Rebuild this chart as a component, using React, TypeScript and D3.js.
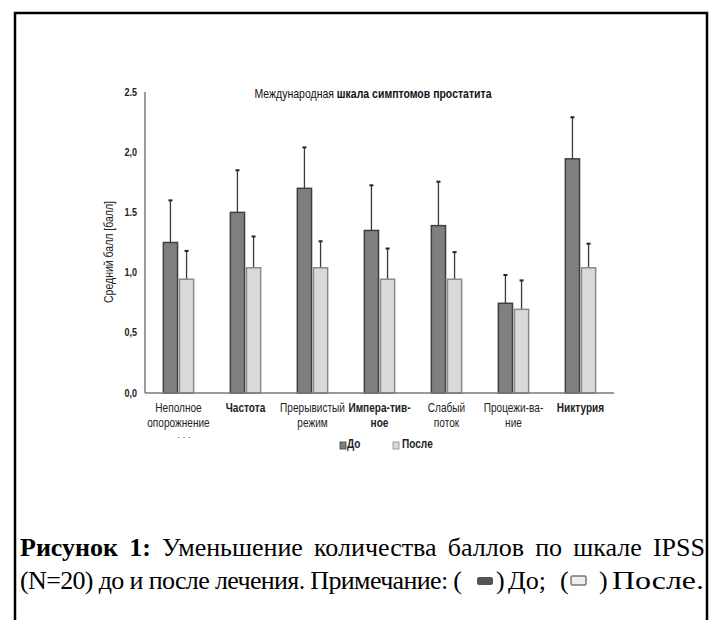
import React, { useLayoutEffect, useRef, useState } from "react";
import * as d3 from "d3";

const categories = ["Неполное опорожнение", "Частота", "Прерывистый режим", "Импера-тив-ное", "Слабый поток", "Процежи-ва-ние", "Никтурия"];
const categoryLines = [["Неполное", "опорожнение"], ["Частота"], ["Прерывистый", "режим"], ["Импера-тив-", "ное"], ["Слабый", "поток"], ["Процежи-ва-", "ние"], ["Никтурия"]];
const categoryBold = [false, true, false, true, false, false, true];
const series = ["До", "После"];
const beforeMeans = [1.25, 1.5, 1.7, 1.35, 1.39, 0.745, 1.945];
const beforeSD = [0.35, 0.35, 0.34, 0.375, 0.365, 0.235, 0.345];
const afterMeans = [0.945, 1.04, 1.04, 0.945, 0.945, 0.695, 1.04];
const afterSD = [0.235, 0.26, 0.22, 0.255, 0.225, 0.24, 0.2];
const yTicks = [0, 0.5, 1, 1.5, 2, 2.5];
const yTickLabels = ["0,0", "0,5", "1,0", "1.5", "2,0", "2.5"];

const FILL = { "До": "#7f7f7f", "После": "#d9d9d9" };
const STROKE = { "До": "#3f3f3f", "После": "#8a8a8a" };
const SANS = "'Liberation Sans', Arial, sans-serif";
const SERIF = "'Liberation Serif', 'Times New Roman', serif";
const NARROW = 0.84;

export default function App() {
  const x0 = d3.scaleBand().domain(categories).range([145, 614]).paddingInner(0.49).paddingOuter(0.245);
  const x1 = d3.scaleBand().domain(series).range([0, x0.bandwidth()]).padding(0.12);
  const y = d3.scaleLinear().domain([0, 2.5]).range([393, 92]);

  const line1Ref = useRef<SVGTextElement>(null);
  const [ws, setWs] = useState(0);
  useLayoutEffect(() => {
    const el = line1Ref.current;
    if (!el) return;
    const w = el.getComputedTextLength();
    setWs((685 - w) / 7);
  }, []);

  const data = categories.map((c, i) => ({
    c,
    vals: [
      { s: "До", m: beforeMeans[i], sd: beforeSD[i] },
      { s: "После", m: afterMeans[i], sd: afterSD[i] },
    ],
  }));

  return (
    <svg width={710} height={620} style={{ position: "absolute", left: 0, top: 0, background: "#fff" }}>
      <rect x={15} y={13} width={692} height={700} fill="none" stroke="#000" strokeWidth={2.5} />
      {/* title */}
      <text transform={`translate(373,98) scale(${NARROW},1)`} textAnchor="middle" fontFamily={SANS} fontSize={12.5} fill="#111">
        Международная <tspan fontWeight="bold">шкала симптомов простатита</tspan>
      </text>
      {/* y label */}
      <text transform={`translate(113,252) rotate(-90) scale(${NARROW},1)`} textAnchor="middle" fontFamily={SANS} fontSize={12.5} fill="#222">
        Средний балл [балл]
      </text>
      {/* y tick labels */}
      {yTicks.map((t, i) => (
        <text key={t} transform={`translate(137,${y(t) + 3.5}) scale(0.9,1)`} textAnchor="end" fontFamily={SANS} fontWeight="bold" fontSize={10} fill="#222">
          {yTickLabels[i]}
        </text>
      ))}
      {/* bars */}
      {data.map((d) => (
        <g key={d.c} transform={`translate(${x0(d.c)},0)`}>
          {d.vals.map((v) => {
            const bx = x1(v.s)!;
            const bw = x1.bandwidth();
            const cx = bx + bw / 2;
            return (
              <g key={v.s}>
                <line x1={cx} x2={cx} y1={y(v.m)} y2={y(v.m + v.sd)} stroke="#3a3a3a" strokeWidth={1.3} />
                <line x1={cx - 2} x2={cx + 2} y1={y(v.m + v.sd)} y2={y(v.m + v.sd)} stroke="#222" strokeWidth={2} />
                <rect x={bx} y={y(v.m)} width={bw} height={y(0) - y(v.m)} fill={FILL[v.s]} stroke={STROKE[v.s]} strokeWidth={1.5} />
              </g>
            );
          })}
        </g>
      ))}
      {/* axes */}
      <line x1={145} x2={145} y1={92} y2={393} stroke="#7a7a7a" strokeWidth={1.5} />
      <line x1={145} x2={614} y1={393} y2={393} stroke="#7a7a7a" strokeWidth={1.5} />
      {/* category labels */}
      {categories.map((c, i) => (
        <g key={c} transform={`translate(${x0(c)! + x0.bandwidth() / 2},412) scale(${NARROW},1)`}>
          <text textAnchor="middle" fontFamily={SANS} fontSize={12}
            fontWeight={categoryBold[i] ? "bold" : "normal"} fill="#222">
            {categoryLines[i].map((l, j) => (
              <tspan key={j} x={0} dy={j === 0 ? 0 : 15}>{l}</tspan>
            ))}
          </text>
        </g>
      ))}
      <text x={184} y={440} textAnchor="middle" fontFamily={SANS} fontSize={9} fill="#333">·   ·   ·</text>
      {/* legend */}
      <rect x={340} y={442} width={6} height={7} fill={FILL["До"]} stroke={STROKE["До"]} strokeWidth={0.8} />
      <text transform={`translate(347,448) scale(${NARROW},1)`} fontFamily={SANS} fontWeight="bold" fontSize={12} fill="#222">До</text>
      <rect x={393} y={442} width={6} height={7} fill={FILL["После"]} stroke={STROKE["После"]} strokeWidth={0.8} />
      <text transform={`translate(402,448) scale(${NARROW},1)`} fontFamily={SANS} fontWeight="bold" fontSize={12} fill="#222">После</text>
      {/* caption */}
      <text ref={line1Ref} x={20} y={556} fontFamily={SERIF} fontSize={26} fill="#000" wordSpacing={ws}>
        <tspan fontWeight="bold">Рисунок 1:</tspan> Уменьшение количества баллов по шкале IPSS
      </text>
      <text x={20} y={589} fontFamily={SERIF} fontSize={26} fill="#000" textLength={442} lengthAdjust="spacing">
        (N=20) до и после лечения. Примечание: (
      </text>
      <rect x={477} y={577} width={16} height={8} rx={2} fill="#555" />
      <text x={496} y={589} fontFamily={SERIF} fontSize={26} fill="#000">)</text>
      <text x={508} y={589} fontFamily={SERIF} fontSize={26} fill="#000" textLength={38} lengthAdjust="spacingAndGlyphs">До;</text>
      <text x={560} y={589} fontFamily={SERIF} fontSize={26} fill="#000">(</text>
      <rect x={571} y={576} width={15} height={9} rx={1.5} fill="#eee" stroke="#777" strokeWidth={1.5} />
      <text x={599} y={589} fontFamily={SERIF} fontSize={26} fill="#000">)</text>
      <text x={612} y={589} fontFamily={SERIF} fontSize={26} fill="#000" textLength={92} lengthAdjust="spacingAndGlyphs">После.</text>
    </svg>
  );
}
